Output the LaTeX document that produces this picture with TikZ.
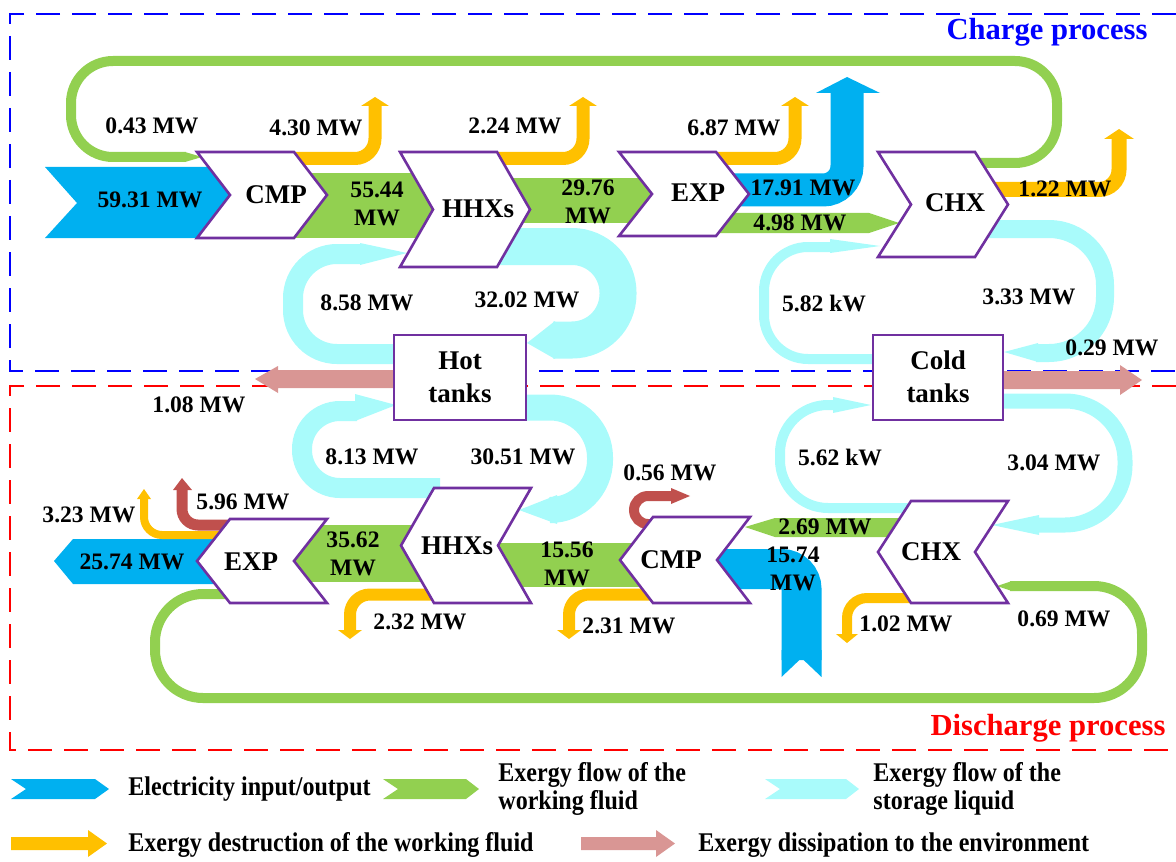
\documentclass[tikz,border=0pt]{standalone}
\usepackage{fontspec}
\setmainfont{Liberation Serif}
\newfontfamily\legendfont{Liberation Serif}[FakeStretch=0.89]
\usepackage{tikz}

\definecolor{elec}{HTML}{00B0F0}
\definecolor{work}{HTML}{92D050}
\definecolor{store}{HTML}{A9FBFB}
\definecolor{destr}{HTML}{FFC000}
\definecolor{dissip}{HTML}{D99694}
\definecolor{loss}{HTML}{C0504D}
\definecolor{boxc}{HTML}{7030A0}

\begin{document}
\begin{tikzpicture}[x=0.5pt,y=-0.5pt,
  val/.style={font=\bfseries\fontsize{11.8}{14}\selectfont, inner sep=0pt, align=center},
  comp/.style={font=\bfseries\fontsize{13.5}{16.5}\selectfont, inner sep=0pt, align=center},
  unit/.style={fill=white, draw=boxc, line width=1.3pt, line join=miter},
  legtext/.style={font=\legendfont\bfseries\fontsize{13.5}{14}\selectfont, inner sep=0pt, anchor=west, align=left},
  frame/.style={line width=1.2pt, dash pattern=on 12pt off 6pt}]

\useasboundingbox (0,0) rectangle (1176,861);

% frames
\draw[frame, blue] (1176,14) -- (10,14) -- (10,371) -- (1176,371);
\draw[frame, red] (1176,386) -- (10,386) -- (10,750) -- (1176,750);

% charge process
\fill[elec] (45,167) -- (240,167) -- (240,238) -- (45,238) -- (77,203) -- cycle;
\draw[work, line width=5pt, rounded corners=21pt] (975,163) -- (1057,163) -- (1057,61) -- (71,61) -- (71,157) -- (186,157);
\fill[work] (185,152) -- (202,157) -- (185,162) -- cycle;
\draw[destr, line width=6.5pt, rounded corners=10pt] (285,158.5) -- (375,158.5) -- (375,104);
\fill[destr] (361,106) -- (375,97) -- (389,106) -- cycle;
\fill[work] (290,173) rectangle (440,238);
\draw[destr, line width=6.5pt, rounded corners=10pt] (488,158.5) -- (583,158.5) -- (583,104);
\fill[destr] (569,106) -- (583,97) -- (597,106) -- cycle;
\fill[work] (500,178) rectangle (660,223);
\draw[store, line width=18.5pt, rounded corners=23pt] (480,246.5) -- (618,246.5) -- (618,340) -- (553,340);
\fill[store] (555,321) -- (527,343) -- (555,359) -- cycle;
\draw[store, line width=10pt, rounded corners=22pt] (400,354) -- (293,354) -- (293,254) -- (362,254);
\fill[store] (360,243) -- (407,253) -- (360,265) -- cycle;
\draw[destr, line width=6.5pt, rounded corners=10pt] (705,158.5) -- (795,158.5) -- (795,104);
\fill[destr] (781,106) -- (795,97) -- (809,106) -- cycle;
\draw[elec, line width=16.5pt, rounded corners=12pt] (700,190) -- (847,190) -- (847,92);
\fill[elec] (816,93) -- (847,77) -- (880,93) -- cycle;
\fill[work] (700,213) -- (869,213) -- (899,223) -- (869,233) -- (700,233) -- cycle;
\draw[store, line width=5pt, rounded corners=22pt] (880,359) -- (764,359) -- (764,247) -- (832,247);
\fill[store] (830,239) -- (880,246) -- (830,253) -- cycle;
\draw[store, line width=9pt, rounded corners=28pt] (980,229) -- (1105,229) -- (1105,353) -- (1036,353);
\fill[store] (1038,343) -- (1004,352) -- (1038,362) -- cycle;
\draw[destr, line width=7.5pt, rounded corners=10pt] (990,189.5) -- (1119,189.5) -- (1119,138);
\fill[destr] (1104,139) -- (1119,129) -- (1134,139) -- cycle;

% dissipation
\fill[dissip] (394,370) -- (278,370) -- (278,366) -- (255,379) -- (278,393) -- (278,388) -- (394,388) -- cycle;
\fill[dissip] (1003,371) -- (1120,371) -- (1120,365) -- (1142,380) -- (1120,395) -- (1120,389) -- (1003,389) -- cycle;

% discharge process
\draw[work, line width=5pt, rounded corners=24pt] (1010,586) -- (1142,586) -- (1142,698) -- (155,698) -- (155,594) -- (235,594);
\fill[work] (1012,581) -- (997,586) -- (1012,591) -- cycle;
\fill[elec] (240,539) -- (73,539) -- (54,561) -- (73,584) -- (240,584) -- cycle;
\draw[loss, line width=5.5pt, rounded corners=8pt] (235,525) -- (182,525) -- (182,489);
\fill[loss] (173,490) -- (182,478) -- (192,490) -- cycle;
\draw[destr, line width=4pt, rounded corners=9pt] (235,535) -- (144,535) -- (144,498);
\fill[destr] (137,499) -- (144,489) -- (151,499) -- cycle;
\fill[work] (285,525) rectangle (440,582);
\fill[work] (488,543) rectangle (660,587);
\draw[destr, line width=6pt, rounded corners=10pt] (445,594.5) -- (350,594.5) -- (350,631);
\fill[destr] (338,630) -- (350,639) -- (362,630) -- cycle;
\draw[destr, line width=6pt, rounded corners=10pt] (665,594.5) -- (569,594.5) -- (569,631);
\fill[destr] (557,630) -- (569,639) -- (581,630) -- cycle;
\draw[loss, line width=5pt, rounded corners=7pt] (652,524) -- (634,524) -- (634,496) -- (672,496);
\fill[loss] (671,488) -- (690,496) -- (671,504) -- cycle;
\draw[elec, line width=20pt, rounded corners=10pt] (710,569) -- (801.5,569) -- (801.5,660);
\fill[elec] (781.5,650) -- (821.5,650) -- (821.5,677) -- (801.5,658) -- (781.5,677) -- cycle;
\fill[work] (900,518) -- (775,518) -- (745,527) -- (775,537) -- (900,537) -- cycle;
\draw[destr, line width=5pt, rounded corners=10pt] (915,598) -- (847,598) -- (847,635);
\fill[destr] (836,634) -- (847,643) -- (858,634) -- cycle;
\draw[store, line width=10pt, rounded corners=19pt] (440,488) -- (302,488) -- (302,411) -- (357,411);
\fill[store] (355,394) -- (396,405) -- (355,421) -- cycle;
\draw[store, line width=13pt, rounded corners=25pt] (510,407.5) -- (600,407.5) -- (600,510) -- (555,510);
\fill[store] (557,495) -- (519,510) -- (557,524) -- cycle;
\draw[store, line width=5pt, rounded corners=24pt] (910,508) -- (780,508) -- (780,405) -- (835,405);
\fill[store] (833,397) -- (871,405) -- (833,413) -- cycle;
\draw[store, line width=7.5pt, rounded corners=30pt] (990,401) -- (1125,401) -- (1125,525) -- (1037,525);
\fill[store] (1039,515) -- (992,525) -- (1039,535) -- cycle;

% units
\filldraw[unit] (197,152) -- (294,152) -- (327,195) -- (294,238) -- (197,238) -- (230,195) -- cycle;
\filldraw[unit] (400,152) -- (497,152) -- (530,209.5) -- (497,267) -- (400,267) -- (433,209.5) -- cycle;
\filldraw[unit] (619,152) -- (716,152) -- (749,194) -- (716,236) -- (619,236) -- (652,194) -- cycle;
\filldraw[unit] (878,152) -- (975,152) -- (1008,204.5) -- (975,257) -- (878,257) -- (911,204.5) -- cycle;
\filldraw[unit] (327,519) -- (230,519) -- (197,561) -- (230,603) -- (327,603) -- (294,561) -- cycle;
\filldraw[unit] (531,488) -- (434,488) -- (401,545.5) -- (434,603) -- (531,603) -- (498,545.5) -- cycle;
\filldraw[unit] (750,517) -- (653,517) -- (620,560) -- (653,603) -- (750,603) -- (717,560) -- cycle;
\filldraw[unit] (1008,501) -- (911,501) -- (878,552) -- (911,603) -- (1008,603) -- (975,552) -- cycle;
\filldraw[unit] (394,335) rectangle (526,420);
\filldraw[unit] (873,335) rectangle (1003,420);

\node[comp] (cmpC) at (276,195) {CMP};
\node[comp] (hhxC) at (478,209) {HHXs};
\node[comp] (expC) at (698,193) {EXP};
\node[comp] (chxC) at (955,203) {CHX};
\node[comp] (expD) at (251,562) {EXP};
\node[comp] (hhxD) at (457,546) {HHXs};
\node[comp] (cmpD) at (671,560) {CMP};
\node[comp] (chxD) at (931,552) {CHX};
\node[comp] (hot) at (460,377) {Hot\\tanks};
\node[comp] (cold) at (938,377) {Cold\\tanks};

% values, charge
\node[val] (c043) at (152,126) {0.43 MW};
\node[val] (c430) at (316,128) {4.30 MW};
\node[val] (c224) at (515,126) {2.24 MW};
\node[val] (c687) at (734,128) {6.87 MW};
\node[val] (c5931) at (150,200) {59.31 MW};
\node[val] (c5544) at (377,204) {55.44\\MW};
\node[val] (c2976) at (588,202) {29.76\\MW};
\node[val] (c1791) at (803,188) {17.91 MW};
\node[val] (c498) at (800,223) {4.98 MW};
\node[val] (c122) at (1065,189) {1.22 MW};
\node[val] (c858) at (367,303) {8.58 MW};
\node[val] (c3202) at (527,300) {32.02 MW};
\node[val] (c582) at (824,303) {5.82 kW};
\node[val] (c333) at (1029,297) {3.33 MW};
\node[val] (c029) at (1112,348) {0.29 MW};
\node[val] (c108) at (199,405) {1.08 MW};

% values, discharge
\node[val] (d813) at (372,457) {8.13 MW};
\node[val] (d3051) at (523,457) {30.51 MW};
\node[val] (d562) at (840,457) {5.62 kW};
\node[val] (d304) at (1054,463) {3.04 MW};
\node[val] (d056) at (670,473) {0.56 MW};
\node[val] (d596) at (243,502) {5.96 MW};
\node[val] (d323) at (89,515) {3.23 MW};
\node[val] (d2574) at (132,562) {25.74 MW};
\node[val] (d3562) at (353,554) {35.62\\MW};
\node[val] (d1556) at (567,564) {15.56\\MW};
\node[val] (d1574) at (793,569) {15.74\\MW};
\node[val] (d269) at (825,527) {2.69 MW};
\node[val] (d232) at (420,622) {2.32 MW};
\node[val] (d231) at (629,626) {2.31 MW};
\node[val] (d102) at (906,624) {1.02 MW};
\node[val] (d069) at (1064,619) {0.69 MW};

\node[font=\bfseries\fontsize{15.3}{18}\selectfont, text=blue, inner sep=0pt] (charge) at (1047,32) {Charge process};
\node[font=\bfseries\fontsize{15.3}{18}\selectfont, text=red, inner sep=0pt] (discharge) at (1048,728) {Discharge process};

% legend
\fill[elec] (11,779) -- (95,779) -- (109,789) -- (95,799) -- (11,799) -- (26,789) -- cycle;
\fill[work] (383,779) -- (466,779) -- (479,789) -- (466,799) -- (383,799) -- (398,789) -- cycle;
\fill[store] (765,779) -- (846,779) -- (859,789) -- (846,799) -- (765,799) -- (780,789) -- cycle;
\fill[destr] (11,837) -- (88,837) -- (88,830) -- (107,843.5) -- (88,857) -- (88,850) -- (11,850) -- cycle;
\fill[dissip] (581,837) -- (656,837) -- (656,830) -- (675,843.5) -- (656,857) -- (656,850) -- (581,850) -- cycle;
\node[legtext] (legelec) at (128,789) {Electricity input/output};
\node[legtext] (legwork) at (498,789) {Exergy flow of the\\working fluid};
\node[legtext] (legstore) at (873,789) {Exergy flow of the\\storage liquid};
\node[legtext] (legdestr) at (128,845) {Exergy destruction of the working fluid};
\node[legtext] (legdiss) at (698,845) {Exergy dissipation to the environment};

\end{tikzpicture}
\end{document}
